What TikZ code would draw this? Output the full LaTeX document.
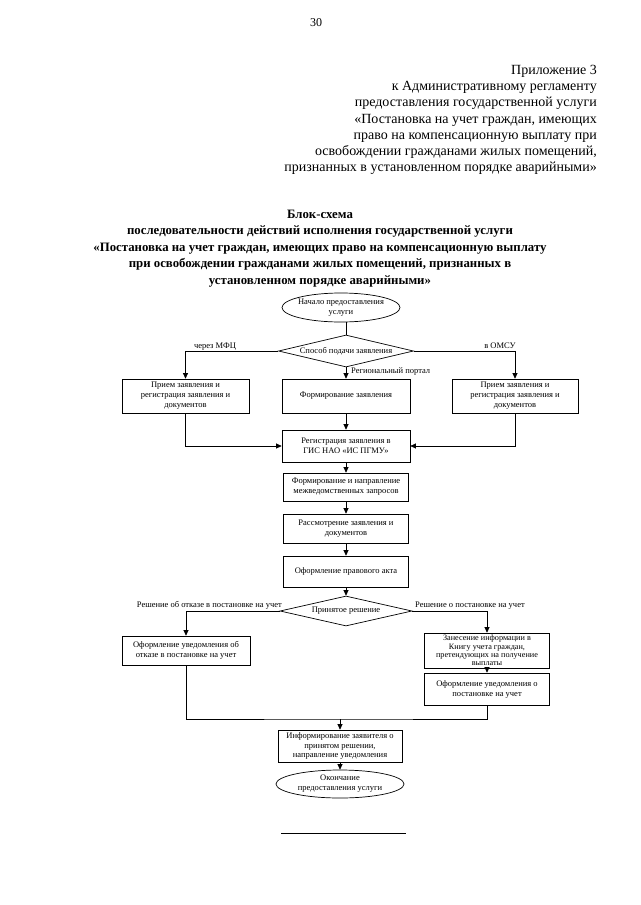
\documentclass[tikz,border=0pt]{standalone}
\usepackage{fontspec}
\setmainfont{Liberation Serif}
\usetikzlibrary{shapes.geometric,arrows.meta}
\begin{document}
\begin{tikzpicture}[x=1pt,y=-1pt,
  fc/.style={font=\fontsize{8.5}{10}\selectfont},
  box/.style={draw,line width=0.7pt,rectangle,inner sep=0pt,fc,align=center},
  ell/.style={draw,line width=0.7pt,ellipse,inner sep=0pt},
  dia/.style={draw,line width=0.7pt,diamond,inner sep=0pt},
  txt/.style={inner sep=0pt,fc,align=center},
  lbl/.style={inner sep=0pt,font=\fontsize{8.5}{10}\selectfont},
  ln/.style={line width=0.7pt},
  arr/.style={line width=0.7pt,-{Triangle[length=5.5pt,width=5pt]}},
  hdr/.style={inner sep=0pt,anchor=base east,font=\fontsize{14}{16}\selectfont},
  ttl/.style={inner sep=0pt,anchor=base,font=\fontsize{12.8}{16}\selectfont\bfseries}]
\useasboundingbox[fill=white] (0,0) rectangle (640,905);

% page number
\node[inner sep=0pt,anchor=base,font=\fontsize{12}{14}\selectfont] (pg) at (316,26.5) {30};

% header
\foreach \t [count=\i] in {Приложение 3,
  к Административному регламенту,
  предоставления государственной услуги,
  {«Постановка на учет граждан, имеющих},
  право на компенсационную выплату при,
  {освобождении гражданами жилых помещений,},
  признанных в установленном порядке аварийными»}
  \node[hdr] (h\i) at (597,{57.8+16.3*\i}) {\t};

% title
\foreach \t [count=\i] in {Блок-схема,
  последовательности действий исполнения государственной услуги,
  {«Постановка на учет граждан, имеющих право на компенсационную выплату},
  {при освобождении гражданами жилых помещений, признанных в},
  установленном порядке аварийными»}
  \node[ttl] (t\i) at (320,{201.5+16.5*\i}) {\t};

% flowchart nodes
\node[ell,minimum width=118pt,minimum height=29pt] (start) at (341,307.5) {};
\node[txt] (startT) at (341,307.5) {Начало предоставления\\услуги};

\node[dia,minimum width=135pt,minimum height=32pt] (d1) at (346,351) {};
\node[txt] (d1T) at (346,351) {Способ подачи заявления};

\node[box,minimum width=127pt,minimum height=34pt] (lbox) at (185.5,396) {Прием заявления и\\регистрация заявления и\\документов};
\node[box,minimum width=128pt,minimum height=34pt] (mbox) at (346,396) {Формирование заявления};
\node[box,minimum width=126pt,minimum height=34pt] (rbox) at (515,396) {Прием заявления и\\регистрация заявления и\\документов};

\node[box,minimum width=128pt,minimum height=32pt] (reg) at (346,446) {Регистрация заявления в\\ГИС НАО «ИС ПГМУ»};
\node[box,minimum width=125pt,minimum height=28pt] (zap) at (346,487) {Формирование и направление\\межведомственных запросов};
\node[box,minimum width=125pt,minimum height=29pt] (ras) at (346,528.5) {Рассмотрение заявления и\\документов};
\node[box,minimum width=125pt,minimum height=31pt] (akt) at (346,571.5) {Оформление правового акта};

\node[dia,minimum width=132pt,minimum height=30pt] (d2) at (346,611) {};
\node[txt] (d2T) at (346,611) {Принятое решение};

\node[box,minimum width=128pt,minimum height=29pt] (lbox2) at (186,650.5) {Оформление уведомления об\\отказе в постановке на учет};
\node[box,minimum width=125pt,minimum height=35pt,font=\fontsize{8.2}{8.3}\selectfont] (rbox1) at (487,650.5) {Занесение информации в\\Книгу учета граждан,\\претендующих на получение\\выплаты};
\node[box,minimum width=125pt,minimum height=32pt] (rbox2) at (487,689) {Оформление уведомления о\\постановке на учет};

\node[box,minimum width=124pt,minimum height=32pt,font=\fontsize{8.5}{9.6}\selectfont] (inf) at (340,746) {Информирование заявителя о\\принятом решении,\\направление уведомления};
\node[ell,minimum width=128pt,minimum height=28pt] (fin) at (340,784) {};
\node[txt] (finT) at (340,784) {Окончание\\предоставления услуги};

\coordinate (j) at (340,719);

% connectors
\draw[ln] (d1.north) -- (d1.north |- start.south);
\draw[arr] (d1.west) -| (lbox.north);
\draw[arr] (d1.east) -| (rbox.north);
\draw[arr] (d1.south) -- (mbox.north);
\draw[arr] (lbox.south) |- (reg.west);
\draw[arr] (rbox.south) |- (reg.east);
\draw[arr] (mbox.south) -- (reg.north);
\draw[arr] (reg.south) -- (zap.north);
\draw[arr] (zap.south) -- (ras.north);
\draw[arr] (ras.south) -- (akt.north);
\draw[arr] (akt.south) -- (d2.north);
\draw[arr] (d2.west) -| (lbox2.north);
\draw[arr] (d2.east) -| (rbox1.north);
\draw[arr] (rbox1.south) -- (rbox2.north);
\draw[ln] (lbox2.south) |- (j) -| (rbox2.south);
\draw[arr] (j) -- (inf.north);
\draw[arr] (inf.south) -- (fin.north);

% connector labels
\node[lbl,anchor=base] (l1) at (215,348) {через МФЦ};
\node[lbl,anchor=base] (l2) at (500,348) {в ОМСУ};
\node[lbl,anchor=west] (l3) at (351,371) {Региональный портал};
\node[lbl,anchor=base east] (l4) at (282,607.5) {Решение об отказе в постановке на учет};
\node[lbl,anchor=base west] (l5) at (415,607.5) {Решение о постановке на учет};

% footnote rule
\draw[line width=0.6pt] (281,833) -- (406,833);
\end{tikzpicture}
\end{document}
